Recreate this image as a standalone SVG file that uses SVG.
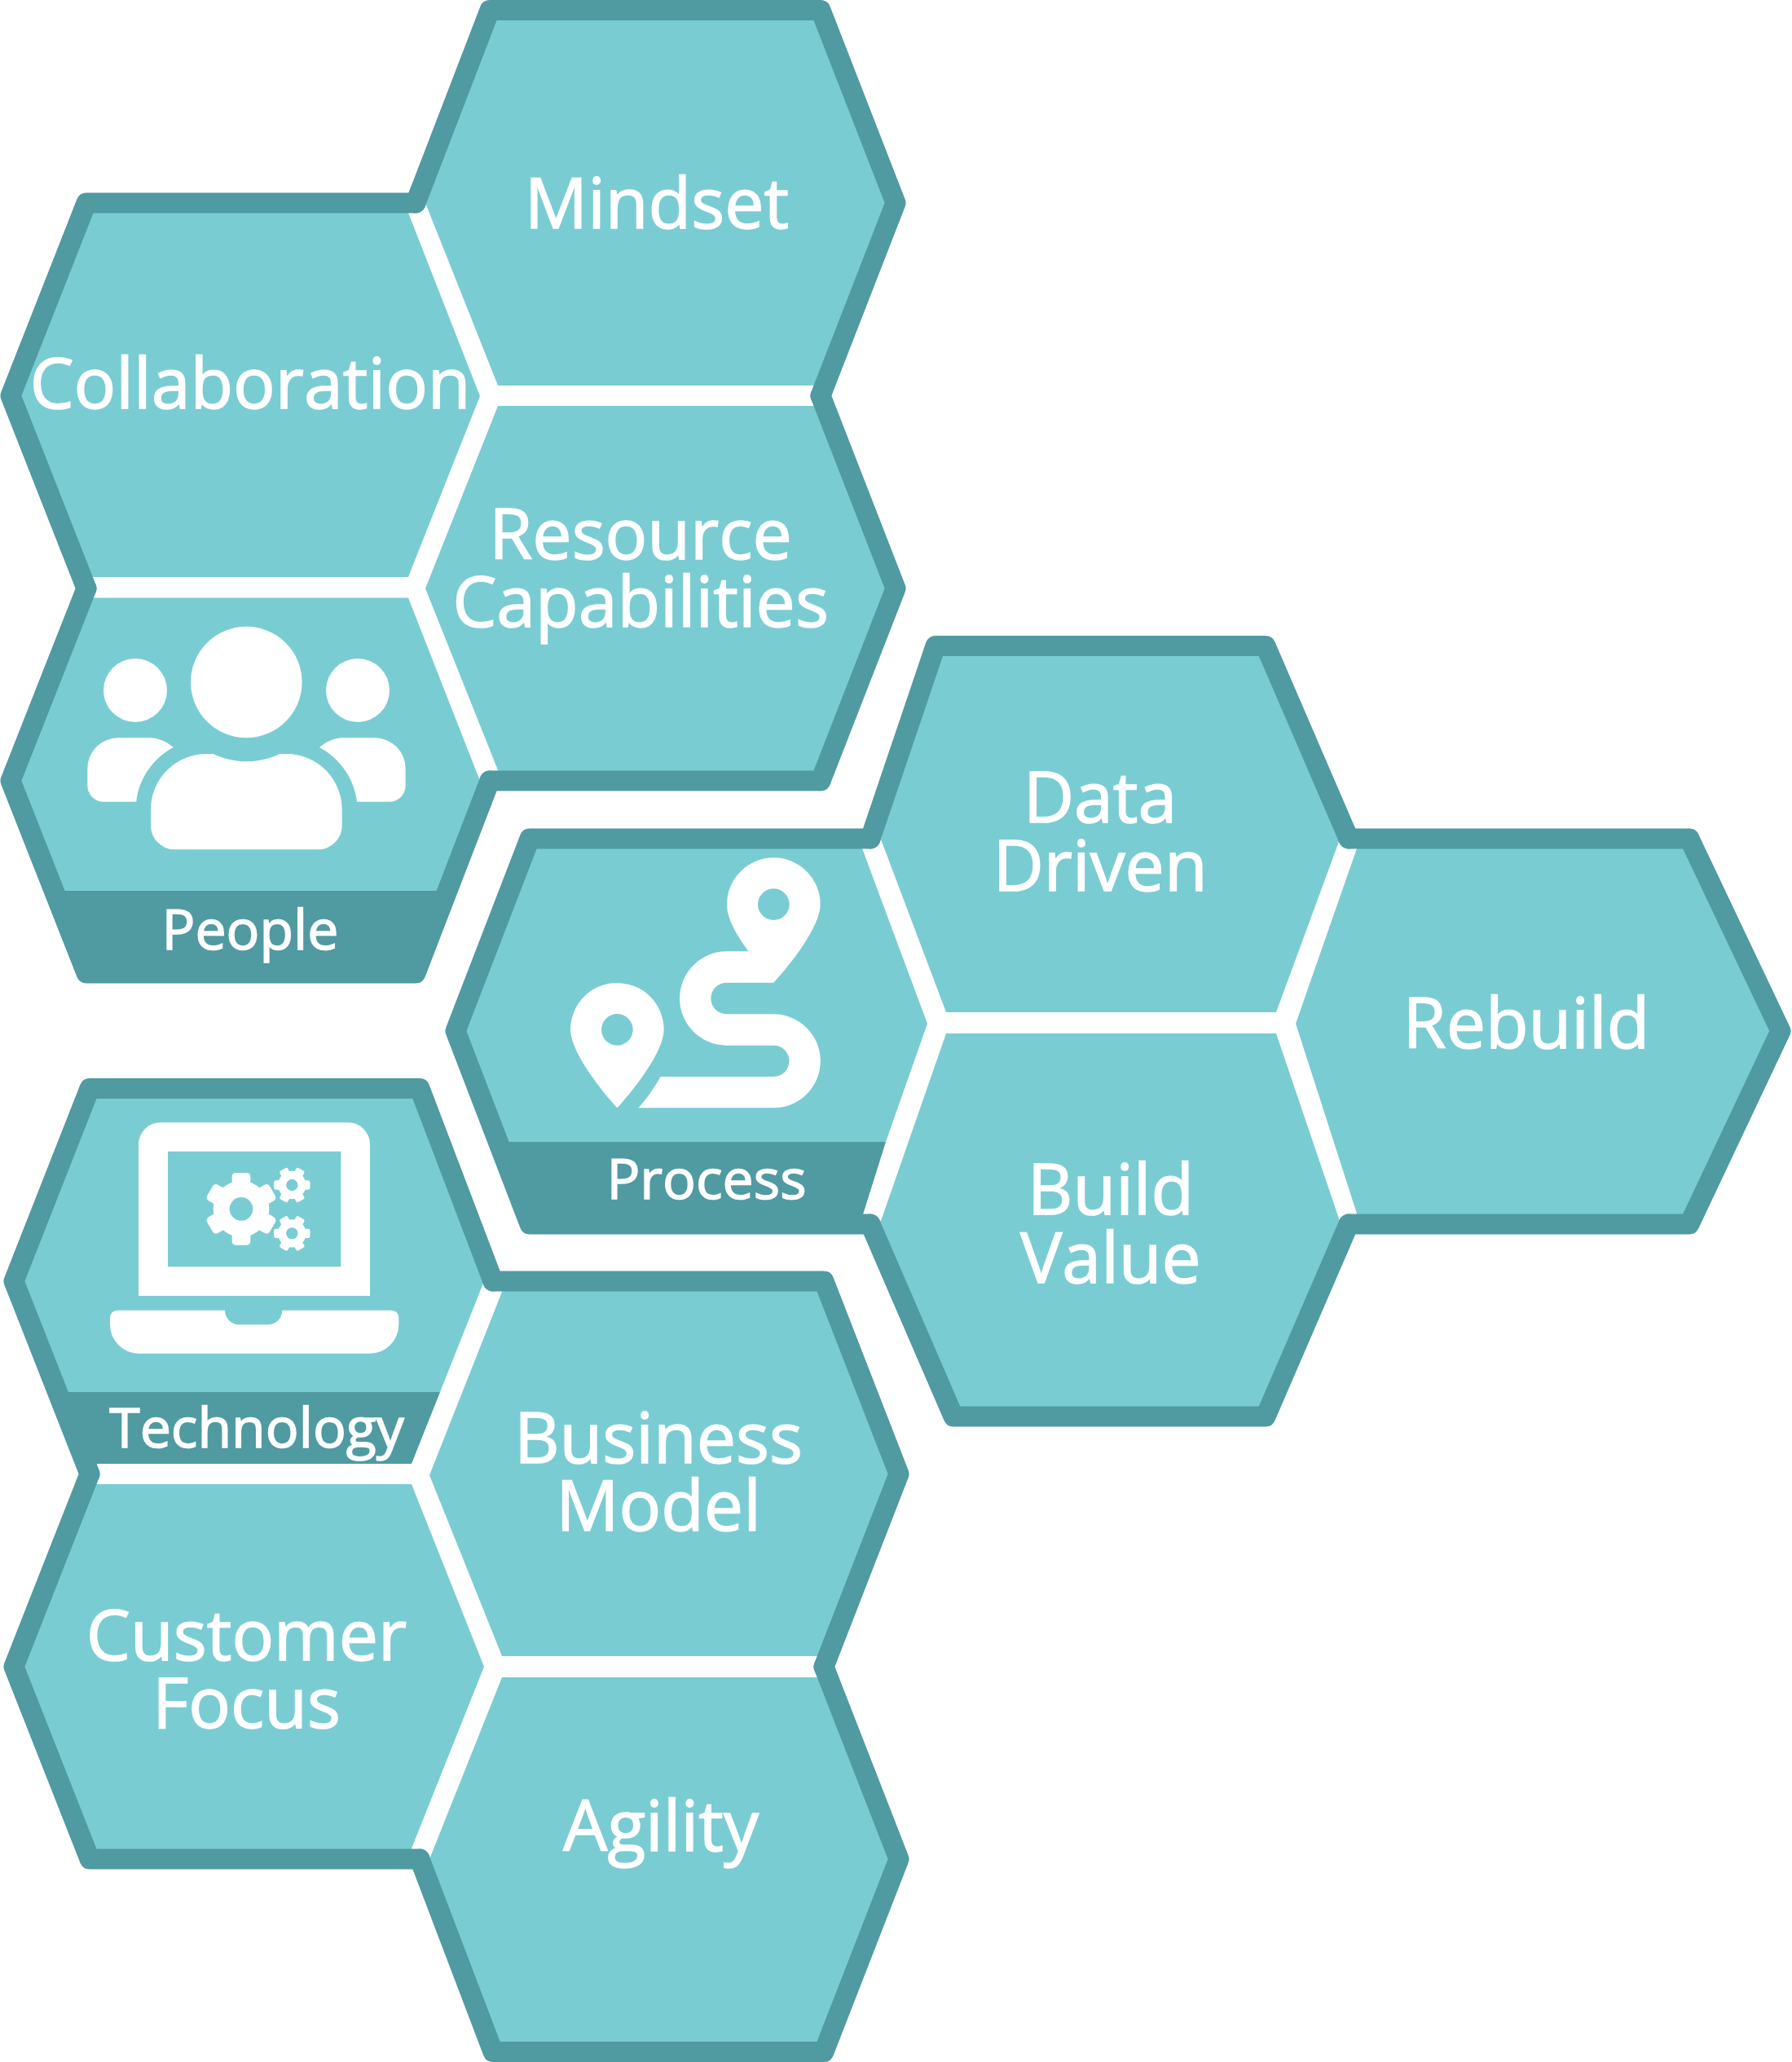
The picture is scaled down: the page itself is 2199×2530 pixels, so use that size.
<svg xmlns="http://www.w3.org/2000/svg" xmlns:xlink="http://www.w3.org/1999/xlink" width="2199" height="2530" viewBox="0 0 2199 2530">
<style>
.f{fill:#7accd3}
.o{fill:none;stroke:#509aa2;stroke-width:25;stroke-linejoin:round;stroke-linecap:round}
.b{fill:#509aa2}
.i{fill:#fff;fill-rule:evenodd}
.h{fill:#7accd3}
text{font-family:"Open Sans","Noto Sans","Liberation Sans",sans-serif;fill:#fff;stroke:#fff;stroke-width:1.5;text-anchor:middle}
.t{font-size:86px}
.s{font-size:68px}
</style>
<defs>
<g id="gear">
<circle r="103" fill="#fff"/>
<g fill="#fff">
<rect x="-34" y="-133" width="68" height="60" rx="14"/>
<rect x="-34" y="-133" width="68" height="60" rx="14" transform="rotate(60)"/>
<rect x="-34" y="-133" width="68" height="60" rx="14" transform="rotate(120)"/>
<rect x="-34" y="-133" width="68" height="60" rx="14" transform="rotate(180)"/>
<rect x="-34" y="-133" width="68" height="60" rx="14" transform="rotate(240)"/>
<rect x="-34" y="-133" width="68" height="60" rx="14" transform="rotate(300)"/>
</g>
<circle r="43" class="h"/>
</g>
</defs>

<g id="mindset">
<polygon class="f" points="522,249 601,12.5 1007,12.5 1099,249 1012,473 611,473"/>
<path class="o" d="M510,249 L601,12.5 H1007 L1099,249 L1007,485.5"/>
<text class="t" x="806" y="280">Mindset</text>
</g>
<g id="resource-capabilities">
<polygon class="f" points="611,498 1012,498 1099,722 1007,958 611,958 611,945 522,722"/>
<path class="o" d="M1007,485.5 L1099,722 L1007,958 H601"/>
<text class="t" x="786" y="686">Resource</text>
<text class="t" x="786" y="769">Capabilities</text>
</g>
<g id="collaboration">
<polygon class="f" points="106,249 501,249 501,261 589,486 501,708 100,708 13,485.5"/>
<path class="o" d="M106,722 L13,485.5 L106,249 H510"/>
<text class="t" x="307" y="501">Collaboration</text>
</g>
<g id="people">
<polygon class="f" points="101.5,733.5 501,733.5 589,958 601,958 549,1093 66,1093 13,958"/>
<polygon class="b" points="66,1093 549,1093 510,1194 106,1194"/>
<path class="o" d="M601,958 L510,1194 H106 L13,958 L106,722"/>
<circle class="i" cx="302.3" cy="837" r="68.3"/>
<circle class="i" cx="166" cy="847" r="39"/>
<circle class="i" cx="439" cy="847" r="39"/>
<g transform="translate(90 740) scale(.33333)">
<path class="i" d="M515,555 C550,572 595,583 637,583 C680,583 725,572 760,555 H785 A204 204 0 0 1 989,760 V820 A88 88 0 0 1 901,907 H373 A88 88 0 0 1 285,820 V760 A205 205 0 0 1 490,555 Z"/>
<path class="i" d="M368,531 C340,508 310,496 285,496 H165 A113 113 0 0 0 52,609 V672 A59 59 0 0 0 111,731 H232 C240,650 290,573 368,531 Z"/>
<path class="i" d="M906,531 C934,508 965,496 990,496 H1110 A113 113 0 0 1 1223,609 V672 A59 59 0 0 1 1164,731 H1044 C1035,650 985,573 906,531 Z"/>
</g>
<text class="s" x="307" y="1165">People</text>
</g>

<g id="process">
<polygon class="f" points="650,1029 1058,1029 1058,1041 1138,1256 1087,1401 610,1401 559,1265"/>
<polygon class="b" points="610,1401 1087,1401 1059,1490 1059,1502 650,1502"/>
<path class="o" d="M1068,1502 H650 L559,1265 L650,1029 H1068"/>
<g transform="translate(670 1030) scale(.33333)">
<path class="i" d="M746,412 C700,350 666,290 666,239 A172 172 0 0 1 1010,239 C1010,320 900,460 838,527 H665 A58 58 0 0 0 665,643 H838 A172.5 172.5 0 0 1 838,988 H340 C370,955 395,920 422,873 H838 A57.5 57.5 0 0 0 838,758 H665 A173 173 0 0 1 665,412 Z M838,181 A58 58 0 1 0 838,297 A58 58 0 1 0 838,181 Z"/>
<path class="i" d="M262,988 C200,920 90,780 90,700 A172 172 0 0 1 434,700 C434,780 325,920 262,988 Z M262,642 A58 58 0 1 0 262,758 A58 58 0 1 0 262,642 Z"/>
</g>
<text class="s" x="867" y="1471">Process</text>
</g>
<g id="data-driven">
<polygon class="f" points="1081,1030 1148,792.5 1553,792.5 1644,1030 1566,1242 1161,1242"/>
<path class="o" d="M1068,1029 L1148,792.5 H1553 L1655,1029"/>
<text class="t" x="1350" y="1009">Data</text>
<text class="t" x="1350" y="1093">Driven</text>
</g>
<g id="build-value">
<polygon class="f" points="1161,1268 1566,1268 1644,1498 1655,1502 1553,1738 1170,1738 1068,1502 1081,1498"/>
<path class="o" d="M1655,1502 L1553,1738 H1170 L1068,1502"/>
<text class="t" x="1363" y="1490">Build</text>
<text class="t" x="1363" y="1574">Value</text>
</g>
<g id="rebuild">
<polygon class="f" points="1590,1256 1665,1041 1665,1029 2073,1029 2185,1265 2073,1502 1665,1502 1665,1489"/>
<path class="o" d="M1655,1029 H2073 L2185,1265 L2073,1502 H1655"/>
<text class="t" x="1873" y="1286">Rebuild</text>
</g>

<g id="technology">
<polygon class="f" points="110,1335.5 515,1335.5 605,1572 594,1572 540,1708 70.5,1708 17,1572"/>
<polygon class="b" points="70.5,1708 540,1708 505,1796 119.5,1796 110,1808.5"/>
<path class="o" d="M605,1572 L515,1335.5 H110 L17,1572 L110,1808.5"/>
<g transform="translate(120 1360) scale(.33333)">
<path class="i" d="M150,690 V132 A80 80 0 0 1 230,52 H922 A80 80 0 0 1 1002,132 V690 Z M258,158 V583 H895 V158 Z"/>
<path class="i" d="M45,770 A27 27 0 0 1 72,743 H468 A53 53 0 0 0 521,796 H626 A53 53 0 0 0 679,743 H1081 A27 27 0 0 1 1108,770 V796 A106 106 0 0 1 1002,902 H151 A106 106 0 0 1 45,796 Z"/>
<use xlink:href="#gear" href="#gear" transform="translate(528 370)"/>
<use xlink:href="#gear" href="#gear" transform="translate(715 282) rotate(90) scale(.5)"/>
<use xlink:href="#gear" href="#gear" transform="translate(715 460) rotate(90) scale(.5)"/>
</g>
<text class="s" x="315" y="1776">Technology</text>
</g>
<g id="business-model">
<polygon class="f" points="616,1572 1011,1572 1103,1808.5 1011,2032 616,2032 527,1810 616,1585"/>
<path class="o" d="M605,1572 H1011 L1103,1808.5 L1011,2045"/>
<text class="t" x="808" y="1795">Business</text>
<text class="t" x="808" y="1878">Model</text>
</g>
<g id="customer-focus">
<polygon class="f" points="105,1821 505,1821 594,2045 505,2268 505,2281 110,2281 17,2045"/>
<path class="o" d="M515,2281 H110 L17,2045 L110,1808.5"/>
<text class="t" x="302.5" y="2037">Customer</text>
<text class="t" x="302.5" y="2120">Focus</text>
</g>
<g id="agility">
<polygon class="f" points="616,2058 1016,2058 1103,2281 1011,2517.5 605,2517.5 527,2281"/>
<path class="o" d="M1011,2045 L1103,2281 L1011,2517.5 H605 L515,2281"/>
<text class="t" x="811" y="2271">Agility</text>
</g>
<g id="connectors"/>
</svg>
